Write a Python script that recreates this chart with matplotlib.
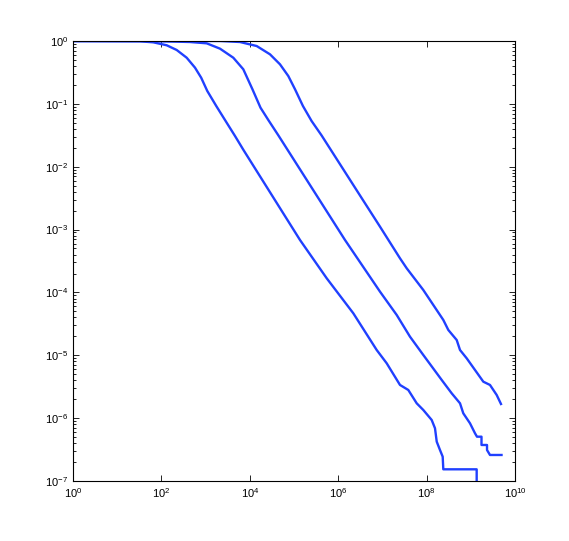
import numpy as np
import matplotlib
matplotlib.use("Agg")
import matplotlib.pyplot as plt
from matplotlib.ticker import LogLocator, FixedLocator, NullLocator

plt.rcParams['font.family'] = ['Liberation Sans', 'DejaVu Sans']
plt.rcParams['mathtext.fontset'] = 'custom'
plt.rcParams['mathtext.rm'] = 'Liberation Sans'
plt.rcParams['mathtext.it'] = 'Liberation Sans'

# log10 exponents
c1_logx = [0.000, 1.516, 1.817, 2.120, 2.346, 2.572, 2.760, 2.900, 3.038, 3.241, 3.477,
           3.665, 3.857, 5.136, 5.740, 6.342, 6.871, 7.097, 7.398, 7.586, 7.776, 7.925,
           8.115, 8.190, 8.229, 8.303, 8.364, 8.378, 9.133, 9.133]
c1_logy = [0.000, -0.005, -0.021, -0.068, -0.143, -0.266, -0.424, -0.584, -0.795, -1.034,
           -1.300, -1.511, -1.734, -3.166, -3.775, -4.332, -4.916, -5.127, -5.472, -5.552,
           -5.764, -5.870, -6.029, -6.161, -6.374, -6.507, -6.613, -6.814, -6.814, -8.0]

c2_logx = [0.000, 1.742, 2.647, 3.025, 3.326, 3.627, 3.853, 4.060, 4.242, 4.419, 4.645,
           6.154, 6.946, 7.324, 7.624, 7.925, 8.342, 8.568, 8.756, 8.830, 8.982, 9.095,
           9.140, 9.242, 9.242, 9.367, 9.367, 9.434, 9.695]
c2_logy = [0.000, 0.000, -0.016, -0.037, -0.122, -0.266, -0.450, -0.768, -1.061, -1.257,
           -1.500, -3.166, -3.988, -4.359, -4.704, -4.995, -5.393, -5.605, -5.764, -5.923,
           -6.082, -6.241, -6.295, -6.295, -6.427, -6.427, -6.507, -6.586, -6.586]

c3_logx = [0.000, 3.326, 3.778, 4.156, 4.457, 4.683, 4.871, 5.023, 5.202, 5.398, 5.622,
           6.511, 6.946, 7.398, 7.550, 7.925, 8.378, 8.491, 8.681, 8.756, 8.907, 9.283,
           9.434, 9.586, 9.683]
c3_logy = [0.000, 0.000, -0.016, -0.080, -0.212, -0.371, -0.557, -0.768, -1.034, -1.273,
           -1.500, -2.477, -2.954, -3.457, -3.616, -3.961, -4.438, -4.597, -4.757, -4.916,
           -5.048, -5.420, -5.472, -5.632, -5.775]

curves = [(c1_logx, c1_logy), (c2_logx, c2_logy), (c3_logx, c3_logy)]

fig = plt.figure(figsize=(5.69, 5.41), dpi=100)
ax = fig.add_axes([73/569, 1-481/541, (515-73)/569, (481-41)/541])

for lx, ly in curves:
    ax.loglog(10**np.array(lx), 10**np.array(ly), color='#2040ff', lw=1.7)

ax.set_xlim(1, 1e10)
ax.set_ylim(1e-7, 1)
ax.xaxis.set_major_locator(FixedLocator([10.0**k for k in range(0, 11, 2)]))
ax.xaxis.set_minor_locator(NullLocator())
ax.yaxis.set_major_locator(FixedLocator([10.0**k for k in range(-7, 1)]))
ax.yaxis.set_minor_locator(LogLocator(base=10, subs=np.arange(2, 10), numticks=20))

ax.tick_params(which='both', direction='in', top=True, right=True, labelsize=8,
               width=0.6, colors='black')
ax.tick_params(which='major', length=4)
ax.tick_params(which='minor', length=2)
for s in ax.spines.values():
    s.set_linewidth(0.8)

fig.savefig('out.png', dpi=100)
